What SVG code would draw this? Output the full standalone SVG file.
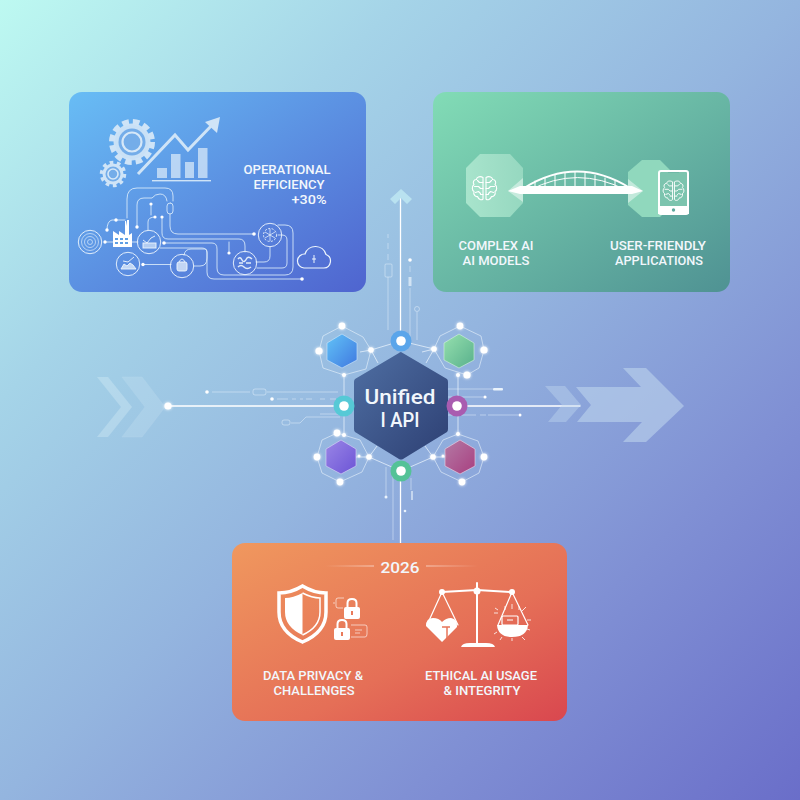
<svg xmlns="http://www.w3.org/2000/svg" xmlns:xlink="http://www.w3.org/1999/xlink" width="800" height="800" viewBox="0 0 800 800">
<style>
text{font-family:Roboto,"Liberation Sans",sans-serif;font-weight:500;fill:#f2f7fc;text-anchor:middle;font-size:12.7px}
.c{fill:none;stroke:#dcecfa;stroke-width:1;stroke-linecap:round;stroke-opacity:.85}
.t{fill:none;stroke:#e6f1fb;stroke-width:1;stroke-opacity:.5}
.w{fill:none;stroke:#fff;stroke-linecap:round;stroke-linejoin:round}
.d{fill:#fff}
.e{fill:none;stroke:#eaf3fc;stroke-width:1;stroke-opacity:.6}
.ic{fill:none;stroke:#eef6fd;stroke-width:1;stroke-opacity:.9}
.brain{fill:none;stroke:#fff;stroke-width:1.1;stroke-linecap:round;stroke-linejoin:round}
</style>
<defs>
<linearGradient id="bg" x1="0" y1="0" x2="1" y2="1"><stop offset="0" stop-color="#bdf9f1"/><stop offset=".25" stop-color="#a5d4e8"/><stop offset=".5" stop-color="#94b5df"/><stop offset=".75" stop-color="#8090d4"/><stop offset="1" stop-color="#6a6ec9"/></linearGradient>
<linearGradient id="g1" x1="0" y1="0" x2="1" y2="1"><stop offset="0" stop-color="#68bdf5"/><stop offset="1" stop-color="#4f64cf"/></linearGradient>
<linearGradient id="g2" x1="0" y1="0" x2="1" y2="1"><stop offset="0" stop-color="#82dcb6"/><stop offset="1" stop-color="#4f9293"/></linearGradient>
<linearGradient id="g3" x1="0" y1="0" x2="1" y2="1"><stop offset="0" stop-color="#f0985e"/><stop offset=".6" stop-color="#e56f57"/><stop offset="1" stop-color="#d9474f"/></linearGradient>
<linearGradient id="hub" x1="0" y1="0" x2="1" y2="1"><stop offset="0" stop-color="#4f6fa3"/><stop offset="1" stop-color="#2d3f73"/></linearGradient>
<linearGradient id="hb" x1="0" y1="0" x2="1" y2="1"><stop offset="0" stop-color="#62c3f7"/><stop offset="1" stop-color="#3f78e0"/></linearGradient>
<linearGradient id="hg" x1="0" y1="0" x2="1" y2="1"><stop offset="0" stop-color="#96e0ae"/><stop offset="1" stop-color="#58b08c"/></linearGradient>
<linearGradient id="hp" x1="0" y1="0" x2="1" y2="1"><stop offset="0" stop-color="#9a86e6"/><stop offset="1" stop-color="#6c54d6"/></linearGradient>
<linearGradient id="hm" x1="0" y1="0" x2="1" y2="1"><stop offset="0" stop-color="#b47aa5"/><stop offset="1" stop-color="#a83f80"/></linearGradient>
<linearGradient id="oc" x1="0" x2="1" y1="0" y2="0"><stop offset="0" stop-color="#a8e4cc"/><stop offset="1" stop-color="#96d8c0"/></linearGradient>
<linearGradient id="fl" x1="0" x2="1" y1="0" y2="0"><stop offset="0" stop-color="#fff" stop-opacity="0"/><stop offset="1" stop-color="#fff" stop-opacity=".6"/></linearGradient>
<linearGradient id="fr" x1="0" x2="1" y1="0" y2="0"><stop offset="0" stop-color="#fff" stop-opacity=".6"/><stop offset="1" stop-color="#fff" stop-opacity="0"/></linearGradient>
<filter id="gl" x="-100%" y="-100%" width="300%" height="300%"><feGaussianBlur stdDeviation="1.6" result="b"/><feMerge><feMergeNode in="b"/><feMergeNode in="SourceGraphic"/></feMerge></filter>
<g id="brainI">
<path class="brain" d="M-1.5 -11 C-5 -13 -8 -11 -8 -9 C-11 -9 -12 -6 -10.5 -4 C-13 -2 -12.5 2 -10.5 3 C-11.5 6 -9 8.5 -7 8 C-6 11 -3 12 -1.5 10.5 Z"/>
<path class="brain" d="M1.5 -11 C5 -13 8 -11 8 -9 C11 -9 12 -6 10.5 -4 C13 -2 12.5 2 10.5 3 C11.5 6 9 8.5 7 8 C6 11 3 12 1.5 10.5 Z"/>
<path class="brain" d="M-1.5 -6 H-5 L-7 -8 M-10 -2 H-6 L-4 0 H-1.5 M-9 4 L-6 3 L-4 5 M-1.5 6 H-4 M1.5 -6 H5 L7 -8 M10 -2 H6 L4 0 H1.5 M9 4 L6 3 L4 5 M1.5 6 H4"/>
</g>
</defs>
<rect width="800" height="800" fill="url(#bg)"/>

<g id="connectors">
<path class="w" stroke-width="1.300" d="M400.500 195V340M400.500 480V543M168 406H336M465 406H580"/>
<path d="M390 199L401 189L412 199L407 204L401 198L395 204Z" fill="#b9e2f0"/>
<circle class="d" cx="168" cy="406" r="3.600" filter="url(#gl)"/>
<g class="t">
<path d="M388 234V238M388 243V249M388 254V260M388 277V330"/>
<rect x="385" y="264" width="7" height="13" rx="1"/>
<path d="M410 266V272M410 288V340"/>
<path d="M417 312V340"/><circle cx="417" cy="309" r="2.500"/>
<path d="M212 392H250M267 392H338M277 399H288M292 399H296M300 399H303M306 399H312M320 399H325M330 399H336"/>
<rect x="253" y="389" width="13" height="6" rx="2"/>
<rect x="282" y="420" width="8" height="5" rx="2"/>
<path d="M291 423H300L306 417H340M320 414H338"/>
<path d="M448 389H493M448 397H483M488 415H518M448 415H476M480 415H486"/>
<path d="M386 467V497M393 473V540M411 478V490"/>
</g>
<rect x="493" y="388" width="10" height="2.400" rx="1" fill="#eaf3fc"/>
<rect x="408.500" y="277" width="3" height="9" fill="#eaf3fc" opacity=".7"/>
<rect x="411" y="491" width="2" height="9" fill="#eaf3fc" opacity=".6"/>
<circle class="d" cx="207" cy="392" r="1.800"/><circle class="d" cx="272" cy="399" r="1.800"/><circle class="d" cx="485" cy="397" r="1.600"/><circle class="d" cx="520" cy="415" r="1.500"/><circle class="d" cx="410" cy="260" r="1.800"/><circle cx="386" cy="497" r="1.500" fill="#eaf3fc"/><circle cx="405" cy="511" r="1.300" fill="#eaf3fc"/>
</g>

<g id="chevrons-left" opacity=".32">
<path fill="#e4f5fa" opacity=".9" d="M97 377H108L132 407L108 437H97L121 407Z"/>
<path fill="#e4f5fa" opacity=".55" stroke="#fff" stroke-opacity=".5" d="M122 377H142L165 407L142 437H122L145 407Z"/>
</g>
<g id="arrows-right" fill="#bfd6ee" opacity=".58">
<path opacity=".75" d="M545 386H565L581 405L566 422H548L562 405Z"/>
<path d="M576 387H641L623 368H646L684 406L646 442H623L642 422H577L591 405Z"/>
</g>

<g id="card-efficiency">
<rect x="69" y="92" width="297" height="200" rx="13" fill="url(#g1)"/>
<g id="gears">
<circle cx="132" cy="142" r="20" fill="none" stroke="#cfe4f7" stroke-width="6" stroke-dasharray="6.500 4"/>
<circle cx="132" cy="142" r="18.500" fill="#cfe4f7" fill-opacity=".95"/>
<circle cx="132" cy="142" r="13.500" fill="#74ade9"/>
<circle cx="132" cy="142" r="9.500" fill="none" stroke="#d6e8f8" stroke-width="2.200"/>
<circle cx="113" cy="174" r="11" fill="none" stroke="#cfe4f7" stroke-width="4.500" stroke-dasharray="3.500 3.400"/>
<circle cx="113" cy="174" r="10.500" fill="#cfe4f7"/>
<circle cx="113" cy="174" r="7.500" fill="#74ade9"/>
<circle cx="113" cy="174" r="5" fill="none" stroke="#d6e8f8" stroke-width="1.600"/>
</g>
<g id="growth-chart" fill="#cfe4f7">
<path fill="none" stroke="#cfe4f7" stroke-width="3" d="M138 174L175 135L188 150L213 124"/>
<path d="M205 122L220 117L217 133Z"/>
<rect x="157" y="168" width="10" height="10" opacity=".8"/><rect x="171" y="154" width="9.500" height="24" opacity=".8"/><rect x="185" y="162" width="9" height="16" opacity=".8"/><rect x="198" y="148" width="9.500" height="30" opacity=".8"/>
<rect x="152" y="180" width="59" height="1.400"/>
</g>
<g id="circuit">
<path class="c" d="M127 218V199Q127 188 137 188H165Q173 188 173 196V201"/>
<rect class="c" x="167" y="203" width="6" height="11" rx="3"/>
<path class="c" d="M170 214V226Q170 234 178 234H254"/>
<path class="c" d="M137 227V205Q137 198 144 198H152Q155 194 160 194Q166 194 167 201"/>
<path class="c" d="M151 204V215M148 230V222Q148 217 155 217"/>
<path class="c" d="M162 217V233Q162 239 168 239H239Q245 239 245 246V252"/>
<path class="c" d="M164 243H212Q217 243 217 249V268Q217 275 224 275H285Q293 275 293 267V233Q293 225 285 225H278"/>
<path class="c" d="M160 248H202Q207 248 207 253V272Q207 279 214 279H302"/>
<path class="c" d="M257 268H282Q287 268 287 263V240Q287 235 282 235H278"/>
<path class="c" d="M270 247V256Q270 262 264 262H256"/>
<path class="c" d="M229 253V242"/>
<path class="c" d="M184 255Q185 249 191 249H205Q207 249 207 252V258Q207 266 200 266H194"/>
<path class="c" d="M143 264.500H171M105 242H113M132 242H138M107 230Q107 221 112 220H125"/>
<g class="d"><circle cx="137" cy="227" r="1.700"/><circle cx="151" cy="204" r="1.600"/><circle cx="155" cy="217" r="1.600"/><circle cx="162" cy="217" r="1.600"/><circle cx="254" cy="234" r="1.800"/><circle cx="164" cy="243" r="1.800"/><circle cx="302" cy="279" r="1.800"/><circle cx="229" cy="253" r="1.600"/><circle cx="143" cy="264.500" r="1.700"/><circle cx="105" cy="242" r="1.700"/><circle cx="107" cy="230" r="1.700"/><circle cx="116" cy="220" r="1.700"/></g>
<g class="ic">
<circle cx="90" cy="242" r="11.700"/><circle cx="90" cy="242" r="8.500" stroke-opacity=".6"/><circle cx="90" cy="242" r="5.500" stroke-opacity=".6"/><circle cx="90" cy="242" r="2.500" stroke-opacity=".6"/>
<circle cx="149" cy="242" r="11.700"/><circle cx="128" cy="264" r="11.700"/><circle cx="182" cy="266" r="11.700"/><circle cx="245" cy="263" r="11.700"/><circle cx="270" cy="235" r="11.700"/>
<path d="M143 240L147 243L151 238L155 236"/>
<rect x="143" y="243" width="13" height="5" fill="#eef6fd" fill-opacity=".6"/>
<path fill="#eef6fd" fill-opacity=".7" d="M121 269L124 264L127 266L130 263L133 265L136 269Z"/><path d="M123 261L128 262L134 257"/>
<rect x="177" y="262" width="10" height="9" rx="2" fill="#eef6fd" fill-opacity=".7"/><path d="M179 262Q182 256 185 262"/>
<path stroke-width="1.500" d="M238 259Q240 256 242 260T247 258Q249 256 252 259M239 263H243M246 263H251M238 267Q241 264 244 267T251 267"/>
<circle cx="270" cy="235" r="6.500" stroke-dasharray="2 1.500"/><path stroke-width=".8" d="M265 232L275 238M275 232L265 238M270 229V241"/>
</g>
<path fill="#fff" d="M113 247V231L119 235V231L125 235V221H126L127 226V220H129V235L132 233V247Z"/>
<g fill="#5f9fe5"><rect x="115" y="238" width="3" height="2"/><rect x="120" y="238" width="3" height="2"/><rect x="125" y="238" width="3" height="2"/><rect x="115" y="242" width="3" height="2"/><rect x="120" y="242" width="3" height="2"/><rect x="125" y="242" width="3" height="2"/></g>
<path fill="none" stroke="#eef6fd" stroke-width="1.200" d="M304 268H324A7 7 0 0 0 326 254.500A11 11 0 0 0 305 254A7 7 0 0 0 304 268Z"/>
<path fill="none" stroke="#eef6fd" d="M314 255V263M312 259H316"/>
</g>
<text x="287" y="174" textLength="87" lengthAdjust="spacingAndGlyphs">OPERATIONAL</text>
<text x="289" y="189" textLength="71" lengthAdjust="spacingAndGlyphs">EFFICIENCY</text>
<text x="309" y="204" textLength="35" lengthAdjust="spacingAndGlyphs">+30%</text>
</g>

<g id="card-bridge">
<rect x="433" y="92" width="297" height="200" rx="13" fill="url(#g2)"/>
<path d="M480 154H510L523 168V203L510 217H480L466 203V168Z" fill="url(#oc)"/>
<path d="M642 160H660L672 172V205L660 217H642L628 205V172Z" fill="#90d8bd"/>
<use xlink:href="#brainI" href="#brainI" transform="translate(484.500 188.500)"/>
<g id="bridge">
<path d="M508 191L523 178V202ZM643 191L628 179V203Z" fill="#fff" opacity=".45"/>
<path d="M508 191L520 186H632L643 191L632 194H520Z" fill="#fff"/>
<path class="w" stroke-width="1.800" d="M524 188Q577 155 630 188"/>
<path class="w" stroke-width="1" d="M530 190Q577 165 626 190"/>
<path class="w" stroke-width="1" d="M535 181V189M545 178V189M555 175.500V189M565 173V189M575 172V189M585 173V189M595 175.500V189M605 178V189M615 181V189"/>
</g>
<rect x="659" y="171" width="29" height="43" rx="2" fill="#7cc4ae" stroke="#fff" stroke-width="2"/>
<rect x="658" y="206" width="31" height="8" fill="#fff"/>
<circle cx="673.500" cy="210" r="1.700" fill="#5fa99e"/>
<path d="M668 172.500H679" stroke="#6eb8a6" stroke-width="1"/>
<use xlink:href="#brainI" href="#brainI" transform="translate(673.500 191) scale(.85)"/>
<text x="496" y="250" textLength="75" lengthAdjust="spacingAndGlyphs">COMPLEX AI</text>
<text x="496" y="265" textLength="67" lengthAdjust="spacingAndGlyphs">AI MODELS</text>
<text x="658" y="250" textLength="96" lengthAdjust="spacingAndGlyphs">USER-FRIENDLY</text>
<text x="659" y="265" textLength="88" lengthAdjust="spacingAndGlyphs">APPLICATIONS</text>
</g>

<g id="satellite-lines" fill="none" stroke="#eaf3fc" stroke-opacity=".75" stroke-width="1">
<path d="M371 350L401 341L434 349M371 350L378 363M434 349L426 363M369 457L401 471L433 457M369 457L377 446M433 457L425 446M344 375V434M458 375V434M360 352L371 350M422 352L434 349M350 457H369M433 457H450"/>
</g>
<g id="hex-blue"><path class="e" d="M342 326L363 337L371 350L366 369L344 375L323 368L319 351L323 336Z"/><path d="M342 334L357 343V360L342 368L327 360V343Z" fill="url(#hb)" stroke="#cfe8fb" stroke-opacity=".6"/><g class="d" filter="url(#gl)"><circle cx="342" cy="326" r="3.400"/><circle cx="319" cy="351" r="3.600"/><circle cx="371" cy="350" r="2.800"/><circle cx="344" cy="375" r="2"/></g></g>
<g id="hex-green"><path class="e" d="M460 326L481 336L484 350L479 368L467 375L445 368L434 349L440 336Z"/><path d="M459 334L474 343V360L459 368L444 360V343Z" fill="url(#hg)" stroke="#d5f2e0" stroke-opacity=".6"/><g class="d" filter="url(#gl)"><circle cx="460" cy="326" r="3.400"/><circle cx="484" cy="350" r="3.600"/><circle cx="467" cy="375" r="3.600"/><circle cx="434" cy="349" r="2.800"/><circle cx="458" cy="375" r="2"/></g></g>
<g id="hex-purple"><path class="e" d="M337 433L322 440L317 457L322 473L340 482L362 472L369 457L360 440Z"/><path d="M341 440L356 449V466L341 474L326 466V449Z" fill="url(#hp)" stroke="#dcd5f7" stroke-opacity=".6"/><g class="d" filter="url(#gl)"><circle cx="337" cy="433" r="3.400"/><circle cx="344" cy="435" r="2"/><circle cx="317" cy="457" r="3.400"/><circle cx="340" cy="482" r="3.400"/><circle cx="369" cy="457" r="2.800"/><circle cx="359" cy="456" r="1.500"/></g></g>
<g id="hex-magenta"><path class="e" d="M458 434L478 441L484 457L479 473L462 482L441 472L433 457L443 440Z"/><path d="M460 440L475 449V466L460 474L445 466V449Z" fill="url(#hm)" stroke="#efd5e6" stroke-opacity=".6"/><g class="d" filter="url(#gl)"><circle cx="458" cy="434" r="2"/><circle cx="484" cy="457" r="3.400"/><circle cx="462" cy="482" r="3.400"/><circle cx="433" cy="457" r="2.800"/><circle cx="443" cy="456" r="1.500"/></g></g>

<g id="hub-node">
<path d="M401 352L447 379Q448 380 448 382V429Q448 431 447 432L403 459Q401 460 399 459L355 432Q354 431 354 429V382Q354 380 355 379L399 353Q400 352 401 352Z" fill="url(#hub)"/>
<text x="400" y="404" style="font-size:19.500px" textLength="71" lengthAdjust="spacingAndGlyphs">Unified</text>
<text x="400" y="427" style="font-size:19.500px" textLength="39" lengthAdjust="spacingAndGlyphs">I API</text>
</g>
<g id="port-top"><circle cx="401" cy="341" r="10.500" fill="#5aa5ea"/><circle class="d" cx="401" cy="341" r="4.800"/></g>
<g id="port-left"><circle cx="344" cy="406" r="10.500" fill="#56c9d6"/><circle class="d" cx="344" cy="406" r="4.800"/></g>
<g id="port-right"><circle cx="457" cy="406" r="10.500" fill="#a95cb0"/><circle class="d" cx="457" cy="406" r="4.800"/></g>
<g id="port-bottom"><circle cx="401" cy="471" r="10.500" fill="#54c297"/><circle class="d" cx="401" cy="471" r="4.800"/></g>

<g id="card-ethics">
<rect x="232" y="543" width="335" height="178" rx="13" fill="url(#g3)"/>
<text x="400" y="573" style="font-size:15.500px" textLength="39" lengthAdjust="spacingAndGlyphs">2026</text>
<rect x="325" y="565.500" width="49" height="1" fill="url(#fl)"/>
<rect x="426" y="565.500" width="52" height="1" fill="url(#fr)"/>
<g id="shield">
<path d="M302.500 586Q314 593 326 593V612Q326 632 302.500 642Q279 632 279 612V593Q291 593 302.500 586Z" fill="none" stroke="#fff" stroke-width="3.500"/>
<path d="M302.500 593Q293 598 285 598V612Q285 627 302.500 635Z" fill="#fff"/>
<path d="M302.500 593Q312 598 320 598V612Q320 627 302.500 635" fill="none" stroke="#fff" stroke-width="1.500"/>
</g>
<g id="locks">
<rect x="344" y="607" width="16" height="12" rx="2" fill="#fff"/><path class="w" stroke-width="2" d="M347.500 607V603Q347.500 599 352 599Q356.500 599 356.500 603V607"/><rect x="351" y="611" width="2" height="4" fill="#ea7a5a"/>
<rect x="334" y="628" width="16" height="12" rx="2" fill="#fff"/><path class="w" stroke-width="2" d="M337.500 628V624Q337.500 620 342 620Q346.500 620 346.500 624V628"/><rect x="341" y="632" width="2" height="4" fill="#ea7a5a"/>
<path fill="none" stroke="#fff" stroke-opacity=".6" d="M344 598H338Q336 598 336 600V606Q336 608 338 608H343M351 625H365Q367 625 367 627V634Q367 637 365 637H351"/>
<path stroke="#fff" stroke-opacity=".6" d="M355 630H362M355 633H360M333 603H335"/>
</g>
<g id="scale">
<path class="w" stroke-width="2" d="M442 592L477 590L512 592M477 583V643"/>
<path d="M461 647Q462 643 470 643H486Q494 643 495 647Z" fill="#fff"/>
<circle class="d" cx="442" cy="592" r="3"/><circle class="d" cx="477" cy="591" r="3.500"/><circle class="d" cx="512" cy="592" r="3"/>
<path class="w" stroke-width="1.200" d="M442 592L427 625M442 592L458 625M512 592L498 625M512 592L528 625"/>
<path d="M442 642L426 626Q426 618 433 618Q439 618 442 622Q446 618 451 618Q458 619 457 627Z" fill="#fff"/>
<path d="M442 627H450M447 627V638" stroke="#e8765a" stroke-width="1.500" fill="none"/>
<path d="M497 625H528Q527 637 512 637Q498 637 497 625Z" fill="#fff"/>
<rect x="502" y="616" width="16" height="9" rx="1" fill="none" stroke="#fff" stroke-width="1.200"/>
<path d="M507 620H513" stroke="#fff"/>
<path fill="none" stroke="#fff" stroke-opacity=".8" d="M495 608L498 610M498 613L494 613M526 607L522 611M531 620H527M530 630L527 629M525 640L522 637M512 641V638M500 640L502 637M494 634L497 632M512 604V609M519 606V610M505 606V610"/>
</g>
<text x="313" y="680" textLength="100" lengthAdjust="spacingAndGlyphs">DATA PRIVACY &amp;</text>
<text x="314" y="695" textLength="81" lengthAdjust="spacingAndGlyphs">CHALLENGES</text>
<text x="481" y="680" textLength="112" lengthAdjust="spacingAndGlyphs">ETHICAL AI USAGE</text>
<text x="482" y="695" textLength="77" lengthAdjust="spacingAndGlyphs">&amp; INTEGRITY</text>
</g>
</svg>
